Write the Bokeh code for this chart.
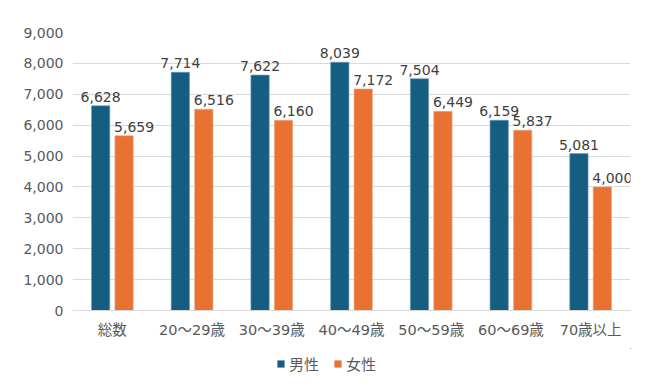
from bokeh.plotting import figure
from bokeh.layouts import column
from bokeh.models import ColumnDataSource, FactorRange, LabelSet, Legend, LegendItem, NumeralTickFormatter, FixedTicker
from bokeh.core.properties import value
from bokeh.transform import dodge
from bokeh.embed import file_html
from bokeh.resources import INLINE

categories = ["総数", "20～29歳", "30～39歳", "40～49歳", "50～59歳", "60～69歳", "70歳以上"]
male = [6628, 7714, 7622, 8039, 7504, 6159, 5081]
female = [5659, 6516, 6160, 7172, 6449, 5837, 4000]
series = ["男性", "女性"]
y_ticks = [0, 1000, 2000, 3000, 4000, 5000, 6000, 7000, 8000, 9000]

FONT = "DejaVu Sans, Noto Sans CJK JP"
TXT = "#595959"
BLUE = "#165e81"
ORANGE = "#e97132"

src = ColumnDataSource(dict(
    cat=categories,
    male=male,
    female=female,
    male_lbl=[f"{v:,}" for v in male],
    female_lbl=[f"{v:,}" for v in female],
))

p = figure(x_range=FactorRange(*categories, range_padding=0), y_range=(0, 9000),
           frame_width=558, frame_height=278, output_backend="svg", toolbar_location=None,
           min_border_left=72, min_border_right=5, min_border_top=32, min_border_bottom=38)
p.outline_line_color = None
p.background_fill_color = "white"
p.border_fill_color = "white"

rb = p.vbar(x=dodge("cat", -0.147, range=p.x_range), top="male", width=0.23, source=src,
            fill_color=BLUE, line_color="#6f9fb8", line_width=0.6)
ro = p.vbar(x=dodge("cat", 0.147, range=p.x_range), top="female", width=0.23, source=src,
            fill_color=ORANGE, line_color="#f2aa84", line_width=0.6)

for col, ycol, off, xo in (("male_lbl", "male", -0.147, 0), ("female_lbl", "female", 0.147, 10)):
    ls = LabelSet(x=dodge("cat", off, range=p.x_range), y=ycol, text=col, source=src,
                  text_align="center", text_baseline="alphabetic", x_offset=xo, y_offset=4,
                  text_font=value(FONT), text_font_size=value("14px"), text_color="#404040")
    p.add_layout(ls)

p.yaxis.ticker = FixedTicker(ticks=y_ticks)
p.yaxis.formatter = NumeralTickFormatter(format="0,0")
p.yaxis.axis_line_color = None
p.yaxis.major_tick_line_color = None
p.yaxis.minor_tick_line_color = None
p.yaxis.major_tick_out = 0
p.yaxis.major_label_standoff = 9
p.yaxis.major_label_text_font = FONT
p.yaxis.major_label_text_font_size = "14px"
p.yaxis.major_label_text_color = TXT

p.xaxis.axis_line_color = "#d9d9d9"
p.xaxis.axis_line_width = 1
p.xaxis.major_tick_line_color = None
p.xaxis.minor_tick_line_color = None
p.xaxis.major_tick_out = 0
p.xaxis.major_label_standoff = 11
p.xaxis.major_label_text_font = FONT
p.xaxis.major_label_text_font_size = "14.5px"
p.xaxis.major_label_text_color = TXT

p.xgrid.grid_line_color = None
p.ygrid.grid_line_color = "#d9d9d9"
p.ygrid.grid_line_width = 1

# legend strip (its renderers are zero-height and outside the visible range; only the legend shows)
lg = figure(width=635, height=27, x_range=(0, 1), y_range=(0, 1), output_backend="svg",
            toolbar_location=None, x_axis_type=None, y_axis_type=None,
            min_border=0, min_border_left=0, min_border_right=0, min_border_top=0, min_border_bottom=0)
lg.outline_line_color = None
lg.xgrid.visible = False
lg.ygrid.visible = False
lb = lg.vbar(x="male", bottom="male", top="male", width=0.0, source=src, fill_color=BLUE, line_color=None)
lo = lg.vbar(x="female", bottom="female", top="female", width=0.0, source=src, fill_color=ORANGE, line_color=None)
legend = Legend(items=[LegendItem(label=series[0], renderers=[lb]), LegendItem(label=series[1], renderers=[lo])],
                orientation="horizontal", location=(204, 1),
                label_text_font=FONT, label_text_font_size="15px", label_text_color=TXT,
                glyph_width=9, glyph_height=9, label_standoff=4, spacing=14,
                border_line_color=None, background_fill_alpha=0, margin=0, padding=3)
lg.add_layout(legend, "center")

layout = column(p, lg, spacing=0)
open("out.html", "w").write(file_html(layout, INLINE))
